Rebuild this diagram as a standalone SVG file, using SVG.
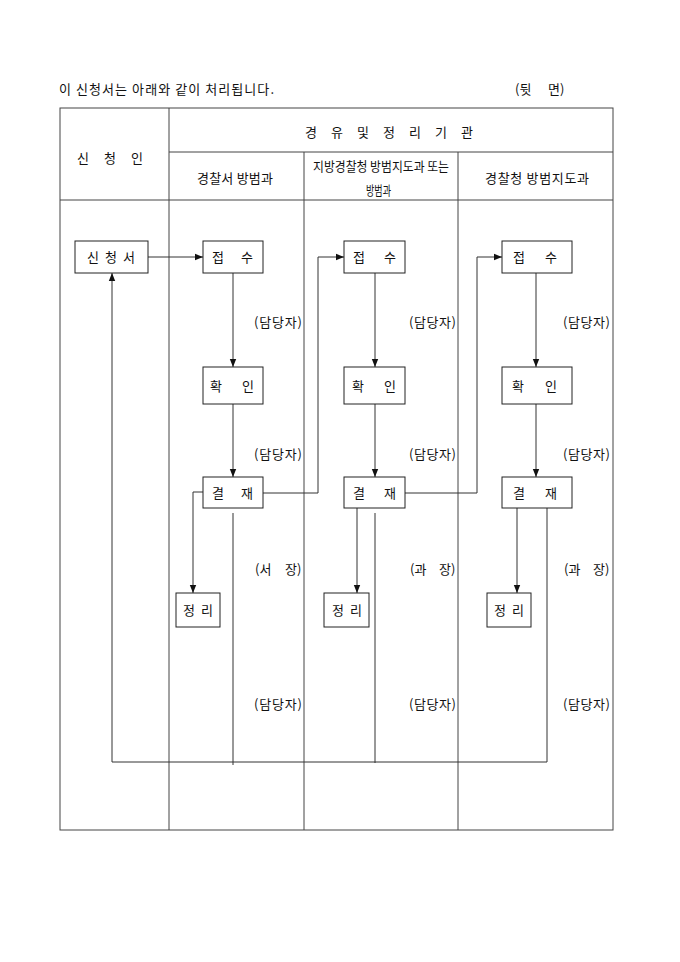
<svg xmlns="http://www.w3.org/2000/svg" width="680" height="962" viewBox="0 0 680 962">
<defs>
<style>
text{font-family:"Noto Sans CJK KR","Noto Sans",sans-serif;font-size:13px;fill:#111}
.frame{fill:none;stroke:#444;stroke-width:1}
.box{fill:#fff;stroke:#222;stroke-width:1}
.ln{fill:none;stroke:#333;stroke-width:1}
</style>
<marker id="ah" viewBox="0 0 8 8" refX="8" refY="4" markerWidth="8" markerHeight="8" markerUnits="userSpaceOnUse" orient="auto">
<path d="M0,0.8 L8,4 L0,7.2 Z" fill="#111"/>
</marker>
</defs>
<rect width="680" height="962" fill="#fff"/>

<g id="title">
<text x="59" y="93.5" textLength="215" lengthAdjust="spacing">이 신청서는 아래와 같이 처리됩니다.</text>
<text x="515" y="93.5">(뒷 <tspan x="548">면)</tspan></text>
</g>

<g id="table">
<rect class="frame" x="60" y="108" width="553" height="722"/>
<path class="frame" d="M169,108 V830 M304,152 V830 M458,152 V830 M169,152 H613 M60,200 H613"/>
<text x="305" y="137" textLength="168" lengthAdjust="spacing">경 유 및 정 리 기 관</text>
<text x="77" y="162.5" textLength="66" lengthAdjust="spacing">신 청 인</text>
<text x="197" y="182.5" textLength="76" lengthAdjust="spacing">경찰서 방범과</text>
<text x="313" y="171" textLength="136" lengthAdjust="spacingAndGlyphs">지방경찰청 방범지도과 또는</text>
<text x="366" y="194.5" textLength="25" lengthAdjust="spacingAndGlyphs">방범과</text>
<text x="485" y="182.5" textLength="104" lengthAdjust="spacing">경찰청 방범지도과</text>
</g>

<g id="connectors">
<path class="ln" d="M148,257 H203" marker-end="url(#ah)"/>
<path class="ln" d="M233,273 V367" marker-end="url(#ah)"/>
<path class="ln" d="M233,404 V477" marker-end="url(#ah)"/>
<path class="ln" d="M263,493 H318 V257 H344" marker-end="url(#ah)"/>
<path class="ln" d="M203,492 H193 V593" marker-end="url(#ah)"/>
<path class="ln" d="M233,513 V765"/>
<path class="ln" d="M375,273 V367" marker-end="url(#ah)"/>
<path class="ln" d="M375,404 V477" marker-end="url(#ah)"/>
<path class="ln" d="M405,493 H477 V257 H502" marker-end="url(#ah)"/>
<path class="ln" d="M357,508 V593" marker-end="url(#ah)"/>
<path class="ln" d="M375,513 V763"/>
<path class="ln" d="M536,273 V367" marker-end="url(#ah)"/>
<path class="ln" d="M536,404 V477" marker-end="url(#ah)"/>
<path class="ln" d="M517,508 V593" marker-end="url(#ah)"/>
<path class="ln" d="M547,508 V762 H112 V273" marker-end="url(#ah)"/>
</g>

<g id="n-applicant">
<rect class="box" x="75" y="241" width="73" height="32"/>
<text x="87" y="262" textLength="48" lengthAdjust="spacing">신 청 서</text>
</g>

<g id="n-receive1"><rect class="box" x="203" y="241" width="60" height="32"/><text x="212" y="262">접 <tspan x="241">수</tspan></text></g>
<g id="n-check1"><rect class="box" x="203" y="367" width="60" height="37"/><text x="210" y="390.5">확 <tspan x="242">인</tspan></text></g>
<g id="n-approve1"><rect class="box" x="203" y="477" width="60" height="31"/><text x="212" y="497.5">결 <tspan x="241">재</tspan></text></g>
<g id="n-file1"><rect class="box" x="176" y="593" width="44" height="34"/><text x="183" y="615" textLength="30" lengthAdjust="spacing">정 리</text></g>

<g id="n-receive2"><rect class="box" x="344" y="241" width="61" height="32"/><text x="353" y="262">접 <tspan x="384">수</tspan></text></g>
<g id="n-check2"><rect class="box" x="344" y="367" width="61" height="37"/><text x="352" y="390.5">확 <tspan x="384">인</tspan></text></g>
<g id="n-approve2"><rect class="box" x="344" y="477" width="61" height="31"/><text x="353" y="497.5">결 <tspan x="384">재</tspan></text></g>
<g id="n-file2"><rect class="box" x="324" y="593" width="45" height="34"/><text x="332" y="615" textLength="30" lengthAdjust="spacing">정 리</text></g>

<g id="n-receive3"><rect class="box" x="502" y="241" width="70" height="32"/><text x="513" y="262">접 <tspan x="545">수</tspan></text></g>
<g id="n-check3"><rect class="box" x="502" y="367" width="70" height="37"/><text x="512" y="390.5">확 <tspan x="545">인</tspan></text></g>
<g id="n-approve3"><rect class="box" x="502" y="477" width="70" height="31"/><text x="513" y="497.5">결 <tspan x="545">재</tspan></text></g>
<g id="n-file3"><rect class="box" x="487" y="593" width="44" height="34"/><text x="494" y="615" textLength="30" lengthAdjust="spacing">정 리</text></g>

<g id="labels">
<text x="254" y="326.5" textLength="48" lengthAdjust="spacing">(담당자)</text>
<text x="254" y="459" textLength="48" lengthAdjust="spacing">(담당자)</text>
<text x="255" y="573.5">(서 <tspan x="285">장)</tspan></text>
<text x="254" y="709" textLength="48" lengthAdjust="spacing">(담당자)</text>
<text x="409" y="326.5" textLength="47" lengthAdjust="spacing">(담당자)</text>
<text x="409" y="459" textLength="47" lengthAdjust="spacing">(담당자)</text>
<text x="410" y="573.5">(과 <tspan x="439">장)</tspan></text>
<text x="409" y="709" textLength="47" lengthAdjust="spacing">(담당자)</text>
<text x="563" y="326.5" textLength="47" lengthAdjust="spacing">(담당자)</text>
<text x="563" y="459" textLength="47" lengthAdjust="spacing">(담당자)</text>
<text x="564" y="573.5">(과 <tspan x="593">장)</tspan></text>
<text x="563" y="709" textLength="47" lengthAdjust="spacing">(담당자)</text>
</g>
</svg>
